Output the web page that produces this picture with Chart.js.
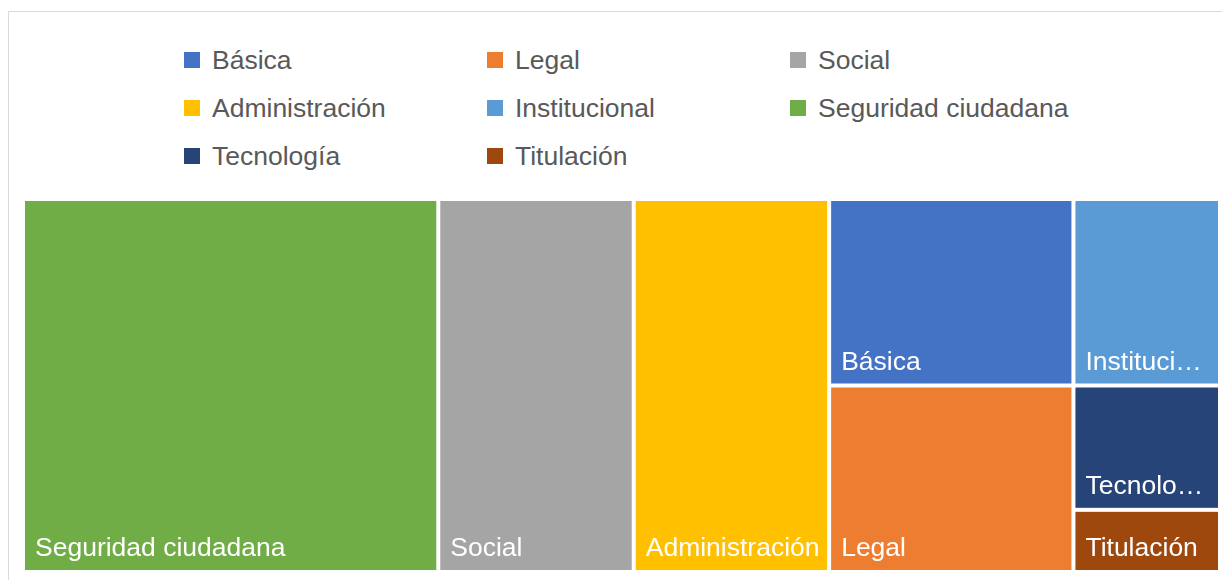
<!DOCTYPE html>
<html>
<head>
<meta charset="utf-8">
<script src="https://cdn.jsdelivr.net/npm/chart.js@4"></script>
<style>
  body { margin: 0; background: #fff; font-family: "Liberation Sans", Arial, sans-serif; }
  #wrap { position: relative; width: 1222px; height: 580px; overflow: hidden; }
  #frame { position: absolute; left: 8px; top: 11px; width: 1300px; height: 700px; border-left: 1px solid #d9d9d9; border-top: 1px solid #d9d9d9; }
  #legend { position: absolute; left: 184px; top: 36px; display: grid; grid-template-columns: 303px 303px 303px; grid-auto-rows: 48px; }
  .item { display: flex; align-items: center; font-size: 26.5px; color: #595959; white-space: nowrap; }
  .box { width: 16px; height: 16px; margin-right: 12px; flex: none; }
  canvas { position: absolute; left: 0; top: 0; }
</style>
</head>
<body>
<div id="wrap">
  <div id="frame"></div>
  <div id="legend"></div>
  <canvas id="tree"></canvas>
</div>
<script>
// data
var categories = ['Básica', 'Legal', 'Social', 'Administración', 'Institucional', 'Seguridad ciudadana', 'Tecnología', 'Titulación'];
var values = [5, 5, 8, 8, 3, 17, 2, 1];
var colors = ['#4472C4', '#ED7D31', '#A5A5A5', '#FFC000', '#5B9BD5', '#70AD47', '#264478', '#9E480E'];

// legend html
var legend = document.getElementById('legend');
categories.forEach(function (c, i) {
    var el = document.createElement('div');
    el.className = 'item';
    el.innerHTML = '<span class="box" style="background:' + colors[i] + '"></span><span></span>';
    el.lastChild.textContent = c;
    legend.appendChild(el);
});

// squarify layout (area units), rect = {x,y,w,h}
function worst(row, side) {
    var s = 0, mx = -Infinity, mn = Infinity;
    row.forEach(function (r) { s += r.area; mx = Math.max(mx, r.area); mn = Math.min(mn, r.area); });
    return Math.max(side * side * mx / (s * s), (s * s) / (side * side * mn));
}

function squarify(items, rect) {
    var out = [];
    var rest = items.slice();
    while (rest.length) {
        var side = Math.min(rect.w, rect.h);
        var row = [rest[0]];
        var i = 1;
        while (i < rest.length && worst(row.concat([rest[i]]), side) <= worst(row, side)) {
            row.push(rest[i]);
            i++;
        }
        rest = rest.slice(i);
        var s = row.reduce(function (a, r) { return a + r.area; }, 0);
        if (rect.w >= rect.h) {
            var cw = s / rect.h, cy = rect.y;
            row.forEach(function (r) {
                var ch = r.area / cw;
                out.push({ idx: r.idx, x: rect.x, y: cy, w: cw, h: ch });
                cy += ch;
            });
            rect = { x: rect.x + cw, y: rect.y, w: rect.w - cw, h: rect.h };
        } else {
            var rh = s / rect.w, cx = rect.x;
            row.forEach(function (r) {
                var rw = r.area / rh;
                out.push({ idx: r.idx, x: cx, y: rect.y, w: rw, h: rh });
                cx += rw;
            });
            rect = { x: rect.x, y: rect.y + rh, w: rect.w, h: rect.h - rh };
        }
    }
    return out;
}

function fitText(ctx, text, maxW) {
    if (ctx.measureText(text).width <= maxW) return text;
    var t = text;
    while (t.length > 1 && ctx.measureText(t + '…').width > maxW) {
        t = t.slice(0, -1);
    }
    return t + '…';
}

// plugin: draw cells through the chart scales
var treemapPlugin = {
    id: 'treemap',
    afterDatasetsDraw: function (chart) {
        var ctx = chart.ctx;
        var xs = chart.scales.x, ys = chart.scales.y;
        var area = chart.chartArea;
        var ar = (area.right - area.left) / (area.bottom - area.top);
        var total = values.reduce(function (a, b) { return a + b; }, 0);
        var items = values.map(function (v, i) { return { idx: i, area: v / total * ar }; });
        items.sort(function (a, b) { return b.area - a.area; });
        var cells = squarify(items, { x: 0, y: 0, w: ar, h: 1 });

        ctx.save();
        cells.forEach(function (c) {
            var x0 = xs.getPixelForValue(c.x / ar);
            var x1 = xs.getPixelForValue((c.x + c.w) / ar);
            var y0 = ys.getPixelForValue(c.y);
            var y1 = ys.getPixelForValue(c.y + c.h);
            var gap = 2;
            ctx.fillStyle = colors[c.idx];
            ctx.fillRect(x0 + gap, y0 + gap, x1 - x0 - gap * 2, y1 - y0 - gap * 2);

            ctx.font = '26.5px "Liberation Sans", Arial, sans-serif';
            ctx.fillStyle = '#ffffff';
            ctx.textBaseline = 'alphabetic';
            var padL = 10, padR = 5;
            var label = fitText(ctx, categories[c.idx], x1 - x0 - gap * 2 - padL - padR);
            ctx.fillText(label, x0 + gap + padL, y1 - gap - 14);
        });
        ctx.restore();
    }
};

new Chart(document.getElementById('tree'), {
    type: 'scatter',
    data: {
        datasets: [{ label: 'treemap', data: [] }]
    },
    options: {
        responsive: true,
        maintainAspectRatio: false,
        animation: false,
        events: [],
        layout: {
            padding: { left: 23, right: 2, top: 199, bottom: 8 }
        },
        scales: {
            x: { type: 'linear', min: 0, max: 1, display: false },
            y: { type: 'linear', min: 0, max: 1, reverse: true, display: false }
        },
        plugins: {
            legend: { display: false },
            tooltip: { enabled: false }
        }
    },
    plugins: [treemapPlugin]
});
</script>
</body>
</html>
